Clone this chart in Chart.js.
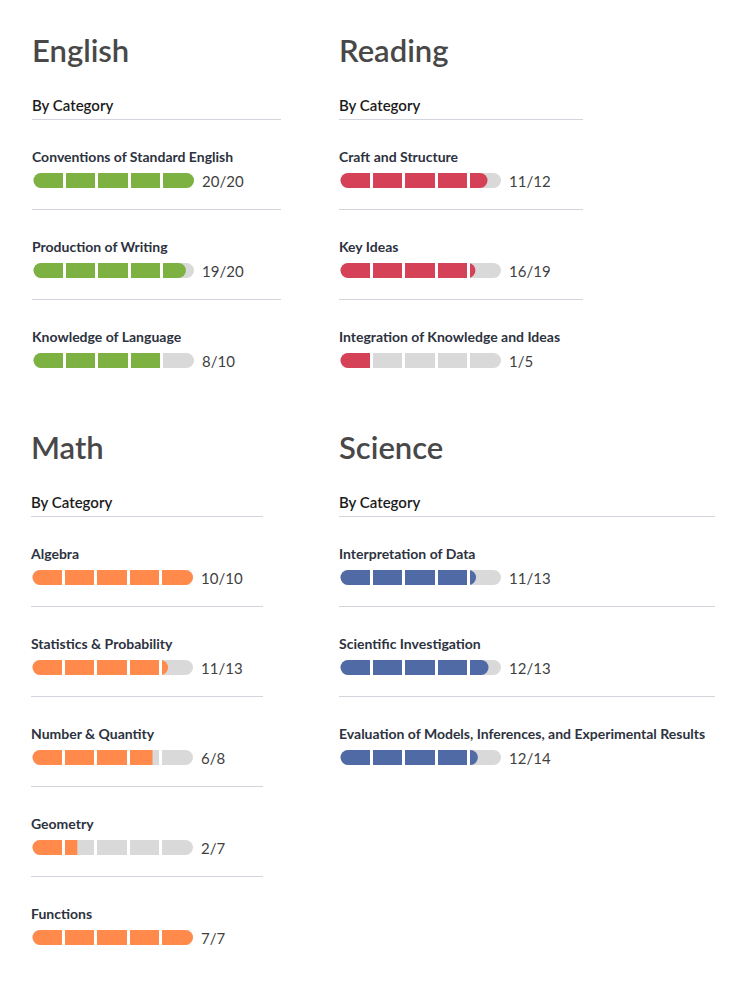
<!DOCTYPE html>
<html>
<head>
<meta charset="utf-8">
<script src="https://cdn.jsdelivr.net/npm/chart.js@4"></script>
<style>
  html, body { margin: 0; padding: 0; background: #fff; }
  body { width: 741px; height: 983px; position: relative; overflow: hidden; font-family: Lato, sans-serif; }
  .t { position: absolute; white-space: nowrap; line-height: 1; }
  .title { color: #484848; font-size: 31px; font-weight: 600; }
  .sub { color: #1b1b1b; font-size: 15px; font-weight: 600; }
  .lbl { color: #2d3240; font-size: 14px; font-weight: 700; }
  .score { color: #3f3f3f; font-size: 15px; font-weight: 400; }
  .rule { position: absolute; height: 1px; background: #d4d4dc; }
  .bar { position: absolute; width: 162px; height: 15px; }
</style>
</head>
<body>
<script>
// scores per section
const englishCategories = ['Conventions of Standard English', 'Production of Writing', 'Knowledge of Language'];
const englishScores = [20, 19, 8];
const englishTotals = [20, 20, 10];

const readingCategories = ['Craft and Structure', 'Key Ideas', 'Integration of Knowledge and Ideas'];
const readingScores = [11, 16, 1];
const readingTotals = [12, 19, 5];

const mathCategories = ['Algebra', 'Statistics & Probability', 'Number & Quantity', 'Geometry', 'Functions'];
const mathScores = [10, 11, 6, 2, 7];
const mathTotals = [10, 13, 8, 7, 7];

const scienceCategories = ['Interpretation of Data', 'Scientific Investigation', 'Evaluation of Models, Inferences, and Experimental Results'];
const scienceScores = [11, 12, 12];
const scienceTotals = [13, 13, 14];

const sections = [
    { name: 'English', cats: englishCategories, scores: englishScores, totals: englishTotals, color: '#7db243', x: 32, top: 119, w: 249 },
    { name: 'Reading', cats: readingCategories, scores: readingScores, totals: readingTotals, color: '#d54156', x: 339, top: 119, w: 244 },
    { name: 'Math', cats: mathCategories, scores: mathScores, totals: mathTotals, color: '#ff8a4c', x: 31, top: 516, w: 232 },
    { name: 'Science', cats: scienceCategories, scores: scienceScores, totals: scienceTotals, color: '#506aa6', x: 339, top: 516, w: 376 }
];

// Lato: baseline sits about 0.887em below the top of a line-height:1 box
const addText = (cls, text, x, baseline, size) => {
    const el = document.createElement('div');
    el.className = 't ' + cls;
    el.textContent = text;
    el.style.left = x + 'px';
    el.style.top = (baseline - 0.887 * size) + 'px';
    document.body.appendChild(el);
    return el;
};

const addRule = (x, y, w) => {
    const el = document.createElement('div');
    el.className = 'rule';
    el.style.left = x + 'px';
    el.style.top = y + 'px';
    el.style.width = w + 'px';
    document.body.appendChild(el);
};

const drawBar = (x, y, score, total, color) => {
    const box = document.createElement('div');
    box.className = 'bar';
    box.style.left = x + 'px';
    box.style.top = y + 'px';
    const canvas = document.createElement('canvas');
    box.appendChild(canvas);
    document.body.appendChild(box);

    const frac = score / total;
    const r = 8;
    const endR = frac > 0.8 ? r : 0;

    new Chart(canvas.getContext('2d'), {
        type: 'bar',
        data: {
            labels: [''],
            datasets: [
                {
                    data: [[0, frac]],
                    backgroundColor: color,
                    borderSkipped: false,
                    borderRadius: { topLeft: r, bottomLeft: r, topRight: endR, bottomRight: endR },
                    inflateAmount: 0
                },
                {
                    data: [1],
                    backgroundColor: '#d9d9d9',
                    borderSkipped: false,
                    borderRadius: r,
                    inflateAmount: 0
                }
            ]
        },
        options: {
            indexAxis: 'y',
            animation: false,
            responsive: true,
            maintainAspectRatio: false,
            events: [],
            layout: { padding: 0 },
            datasets: { bar: { grouped: false, barPercentage: 1, categoryPercentage: 1 } },
            plugins: { legend: { display: false }, tooltip: { enabled: false }, title: { display: false } },
            scales: {
                x: {
                    min: 0,
                    max: 1,
                    ticks: { display: false, stepSize: 0.2 },
                    border: { display: false },
                    // white gaps between the five segments, drawn over the bars
                    grid: {
                        z: 1,
                        drawTicks: false,
                        lineWidth: 3,
                        color: c => (c.tick && c.tick.value > 0.01 && c.tick.value < 0.99) ? '#ffffff' : 'rgba(0,0,0,0)'
                    }
                },
                y: { display: false }
            }
        }
    });
};

sections.forEach(s => {
    const T = s.top;
    addText('title', s.name, s.x, T - 57, 31);
    addText('sub', 'By Category', s.x, T - 8, 15);
    addRule(s.x, T, s.w);
    s.cats.forEach((cat, i) => {
        const off = T + 90 * i;
        addText('lbl', cat, s.x, off + 43, 14);
        drawBar(s.x, off + 54, s.scores[i], s.totals[i], s.color);
        addText('score', s.scores[i] + '/' + s.totals[i], s.x + 170, off + 68, 15);
        if (i < s.cats.length - 1) addRule(s.x, off + 90, s.w);
    });
});
</script>
</body>
</html>
